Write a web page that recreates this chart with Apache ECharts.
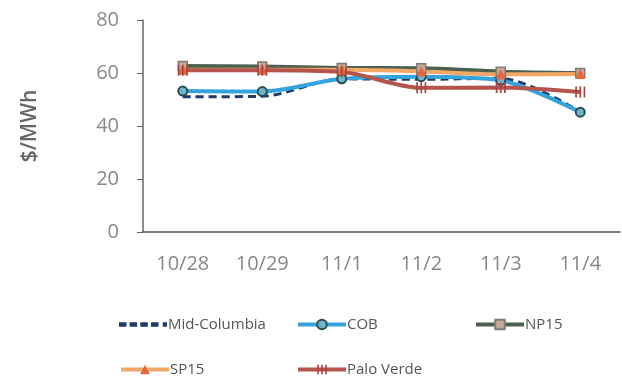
<!DOCTYPE html>
<html>
<head>
<meta charset="utf-8">
<script src="https://cdn.jsdelivr.net/npm/echarts@6/dist/echarts.min.js"></script>
<style>
  html, body { margin: 0; padding: 0; background: #fff; }
  #chart { width: 622px; height: 379px; }
</style>
</head>
<body>
<div id="chart"></div>
<script>
// Daily wholesale electricity prices by trading hub ($/MWh)
const dates = ['10/28', '10/29', '11/1', '11/2', '11/3', '11/4'];
const yTicks = [0, 20, 40, 60, 80];

const midColumbia = [51.0, 51.2, 57.8, 57.6, 58.0, 45.3];
const cob         = [53.2, 53.0, 57.8, 58.6, 57.2, 45.2];
const np15        = [62.6, 62.5, 61.9, 61.8, 60.5, 60.0];
const sp15        = [61.2, 61.2, 61.2, 60.6, 59.5, 59.6];
const paloVerde   = [61.0, 61.0, 60.4, 54.4, 54.5, 52.8];

const FONT = '"Open Sans", "Noto Sans", sans-serif';
const chart = echarts.init(document.getElementById('chart'));

const legendItem = (item, left, top) => ({
  data: [item], left, top,
  itemWidth: 48, itemHeight: 12, itemGap: 2,
  lineStyle: { width: 4 },
  textStyle: { fontFamily: FONT, fontSize: 15, color: '#555', padding: [0, 0, 0, -4] },
  selectedMode: false
});

chart.setOption({
  animation: false,
  grid: { left: 143, right: 2, top: 20, bottom: 147 },
  legend: [
    legendItem({ name: 'Mid-Columbia', icon: 'path://M0,0h7v4h-7z M10,0h7v4h-7z M20,0h7v4h-7z M30,0h7v4h-7z M41,0h4v4h-4z' }, 114, 312),
    legendItem('COB', 291, 312),
    legendItem('NP15', 469, 312),
    legendItem('SP15', 114, 357),
    legendItem('Palo Verde', 291, 357)
  ],
  xAxis: {
    type: 'category',
    data: dates,
    boundaryGap: true,
    axisLine: { lineStyle: { color: '#555', width: 1.5 } },
    axisTick: { alignWithLabel: true, inside: true, length: 5, lineStyle: { color: '#666' } },
    axisLabel: { fontFamily: FONT, fontSize: 20, color: '#888', margin: 22 }
  },
  yAxis: {
    type: 'value',
    min: yTicks[0], max: yTicks[yTicks.length - 1], interval: 20,
    name: '$/MWh',
    nameLocation: 'middle',
    nameRotate: 90,
    nameGap: 102,
    nameTextStyle: { fontFamily: FONT, fontSize: 21, color: '#666', fontWeight: 600 },
    splitLine: { show: false },
    axisLine: { show: true, lineStyle: { color: '#666', width: 1.5 } },
    axisTick: { show: true, length: 6, lineStyle: { color: '#666' } },
    axisLabel: { fontFamily: FONT, fontSize: 20, color: '#888', margin: 24 }
  },
  series: [
    {
      name: 'Mid-Columbia', type: 'line', data: midColumbia, smooth: 0.3,
      symbol: 'none',
      lineStyle: { color: '#1f3a6b', width: 3, type: [8, 5] },
      itemStyle: { color: '#1f3a6b' }
    },
    {
      name: 'COB', type: 'line', data: cob, smooth: 0.3,
      symbol: 'circle', symbolSize: 9,
      lineStyle: { color: '#35a3dc', width: 4 },
      itemStyle: { color: '#6fb5c9', borderColor: '#2d4b57', borderWidth: 2 }
    },
    {
      name: 'NP15', type: 'line', data: np15, smooth: 0.3,
      symbol: 'rect', symbolSize: 9,
      lineStyle: { color: '#4e6150', width: 4 },
      itemStyle: { color: '#c9a79a', borderColor: '#7d7d76', borderWidth: 1.5 }
    },
    {
      name: 'SP15', type: 'line', data: sp15, smooth: 0.3,
      symbol: 'triangle', symbolSize: 9,
      lineStyle: { color: '#f3a766', width: 4 },
      itemStyle: { color: '#e5673d', borderColor: '#e5673d' }
    },
    {
      name: 'Palo Verde', type: 'line', data: paloVerde, smooth: 0.3,
      symbol: 'path://M0,0h2v12h-2z M5,0h2v12h-2z M10,0h2v12h-2z', symbolSize: [10, 11],
      lineStyle: { color: '#b4544c', width: 4 },
      itemStyle: { color: '#a8433d' }
    }
  ]
});
</script>
</body>
</html>
